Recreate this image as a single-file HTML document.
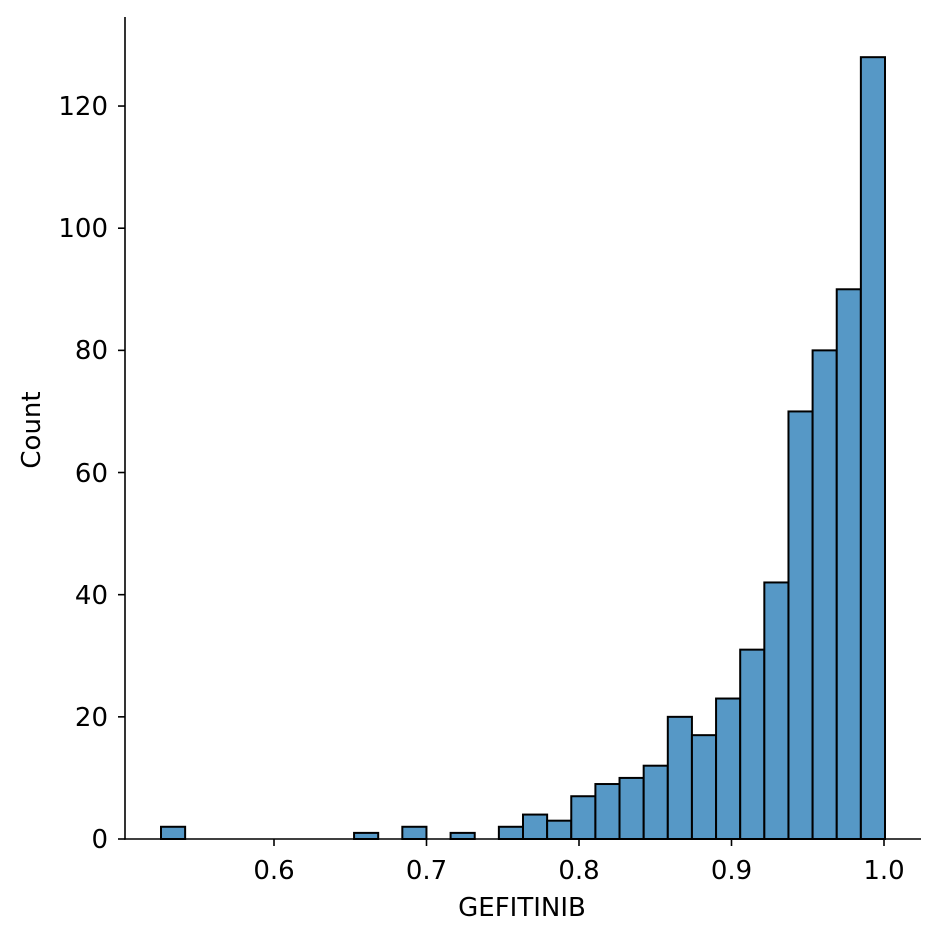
<!DOCTYPE html>
<html><head><meta charset="utf-8"><style>html,body{margin:0;padding:0;background:#fff}</style></head>
<body>
<svg width="940" height="940" xmlns="http://www.w3.org/2000/svg" font-family="DejaVu Sans, sans-serif" font-size="26">
<g fill="#5698c6" stroke="#000" stroke-width="2">
<rect x="161" y="826.78" width="24.13" height="12.22"/>
<rect x="354.07" y="832.89" width="24.13" height="6.11"/>
<rect x="402.33" y="826.78" width="24.13" height="12.22"/>
<rect x="450.6" y="832.89" width="24.13" height="6.11"/>
<rect x="498.87" y="826.78" width="24.13" height="12.22"/>
<rect x="523" y="814.57" width="24.13" height="24.43"/>
<rect x="547.13" y="820.68" width="24.13" height="18.32"/>
<rect x="571.27" y="796.24" width="24.13" height="42.76"/>
<rect x="595.4" y="784.03" width="24.13" height="54.97"/>
<rect x="619.53" y="777.92" width="24.13" height="61.08"/>
<rect x="643.67" y="765.7" width="24.13" height="73.3"/>
<rect x="667.8" y="716.84" width="24.13" height="122.16"/>
<rect x="691.93" y="735.16" width="24.13" height="103.84"/>
<rect x="716.07" y="698.52" width="24.13" height="140.48"/>
<rect x="740.2" y="649.65" width="24.13" height="189.35"/>
<rect x="764.33" y="582.46" width="24.13" height="256.54"/>
<rect x="788.47" y="411.44" width="24.13" height="427.56"/>
<rect x="812.6" y="350.36" width="24.13" height="488.64"/>
<rect x="836.73" y="289.28" width="24.13" height="549.72"/>
<rect x="860.87" y="57.18" width="24.13" height="781.82"/>
</g>
<g stroke="#000" stroke-width="1.6" fill="none">
<line x1="125" y1="17" x2="125" y2="839.8"/>
<line x1="124.2" y1="839" x2="921" y2="839"/>
<line x1="118" y1="839" x2="125" y2="839"/>
<line x1="118" y1="716.84" x2="125" y2="716.84"/>
<line x1="118" y1="594.68" x2="125" y2="594.68"/>
<line x1="118" y1="472.52" x2="125" y2="472.52"/>
<line x1="118" y1="350.36" x2="125" y2="350.36"/>
<line x1="118" y1="228.2" x2="125" y2="228.2"/>
<line x1="118" y1="106.04" x2="125" y2="106.04"/>
<line x1="274" y1="839" x2="274" y2="846"/>
<line x1="426.5" y1="839" x2="426.5" y2="846"/>
<line x1="579" y1="839" x2="579" y2="846"/>
<line x1="731.5" y1="839" x2="731.5" y2="846"/>
<line x1="884" y1="839" x2="884" y2="846"/>
</g>
<g fill="#000" text-anchor="end">
<text x="108" y="848">0</text>
<text x="108" y="726">20</text>
<text x="108" y="604">40</text>
<text x="108" y="482">60</text>
<text x="108" y="359">80</text>
<text x="108" y="237">100</text>
<text x="108" y="115">120</text>
</g>
<g fill="#000" text-anchor="middle">
<text x="274" y="879">0.6</text>
<text x="426.5" y="879">0.7</text>
<text x="579" y="879">0.8</text>
<text x="731.5" y="879">0.9</text>
<text x="884" y="879">1.0</text>
<text x="522" y="916">GEFITINIB</text>
<text x="0" y="0" transform="translate(40,430) rotate(-90)">Count</text>
</g>
</svg>
</body></html>
